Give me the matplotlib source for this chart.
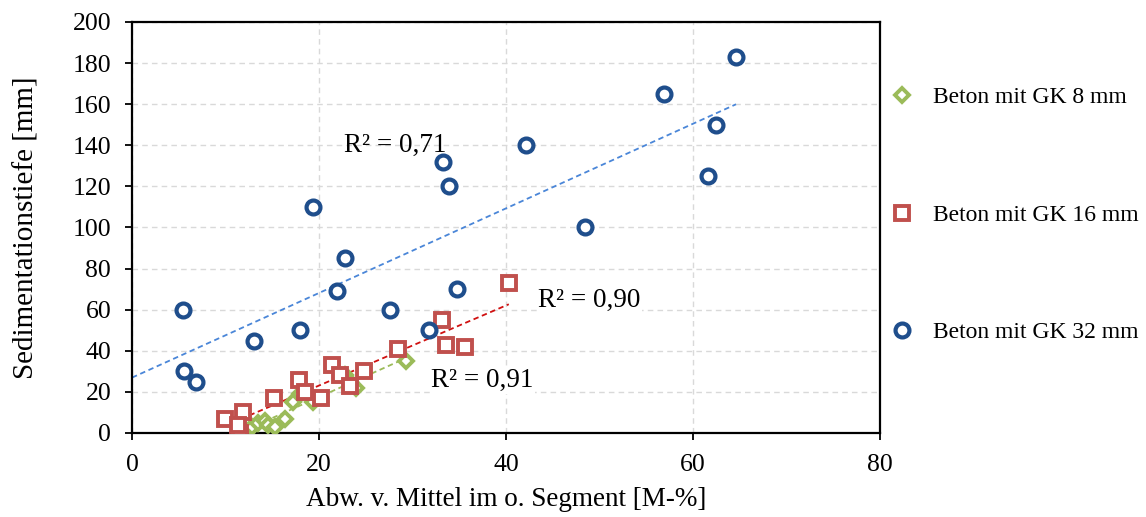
import numpy as np
import matplotlib.pyplot as plt

plt.rcParams['font.family'] = ['Liberation Serif', 'DejaVu Serif']

# Beton mit GK 8 mm
gk8_x = [11.5, 12.8, 13.5, 14.2, 14.5, 15.3, 16.4, 17.2, 18.0, 19.4, 22.8, 23.3, 24.0, 29.3]
gk8_y = [1, 3, 5, 6, 4, 3, 7, 15, 19, 15, 28, 25, 22, 35]

# Beton mit GK 16 mm
gk16_x = [9.9, 11.9, 11.6, 11.3, 15.2, 17.9, 18.5, 20.2, 21.4, 22.2, 24.8, 23.3, 28.4, 33.2, 33.6, 35.6, 40.3]
gk16_y = [7, 10, 0, 4, 17, 26, 20, 17, 33, 28, 30, 23, 41, 55, 43, 42, 73]

# Beton mit GK 32 mm
gk32_x = [5.5, 5.6, 6.8, 13.0, 19.4, 18.0, 22.8, 21.9, 27.6, 31.8, 33.3, 33.9, 34.8,
          42.1, 48.4, 56.9, 61.6, 62.5, 64.6]
gk32_y = [60, 30, 25, 45, 110, 50, 85, 69, 60, 50, 132, 120, 70,
          140, 100, 165, 125, 150, 183]

labels = ["Beton mit GK 8 mm", "Beton mit GK 16 mm", "Beton mit GK 32 mm"]
r2_labels = ["R² = 0,91", "R² = 0,90", "R² = 0,71"]

green = "#9BBB59"
red = "#C0504D"
navy = "#1F4E8C"

fig = plt.figure(figsize=(11.46, 5.17), dpi=100)
ax = fig.add_axes([0.1152, 0.1625, 0.6527, 0.795])

# trendlines (linear fit)
def trend(x, y, x0, x1, color):
    k, d = np.polyfit(x, y, 1)
    xs = np.array([x0, x1])
    ax.plot(xs, k * xs + d, ls=(0, (3, 2)), lw=1.3, color=color, zorder=2)

trend(gk32_x, gk32_y, 0, max(gk32_x), "#4A86D8")
trend(gk16_x, gk16_y, min(gk16_x), max(gk16_x), "#D01010")
trend(gk8_x, gk8_y, min(gk8_x), max(gk8_x), green)

h8, = ax.plot(gk8_x, gk8_y, ls="none", marker="D", ms=7.5, mfc="white", mec=green, mew=2.8, zorder=3)
h16, = ax.plot(gk16_x, gk16_y, ls="none", marker="s", ms=10, mfc="white", mec=red, mew=2.8, zorder=4)
h32, = ax.plot(gk32_x, gk32_y, ls="none", marker="o", ms=10, mfc="white", mec=navy, mew=3.0, zorder=5)

bbox = dict(facecolor="white", edgecolor="none", pad=1)
ax.text(37.5, 25.8, r2_labels[0], fontsize=19.5, ha="center", va="center", bbox=bbox, zorder=6)
ax.text(48.9, 64.7, r2_labels[1], fontsize=19.5, ha="center", va="center", bbox=bbox, zorder=6)
ax.text(28.2, 140, r2_labels[2], fontsize=19.5, ha="center", va="center", zorder=6)

ax.set_xlim(0, 80)
ax.set_ylim(0, 200)
ax.set_xticks(np.arange(0, 81, 20))
ax.set_yticks(np.arange(0, 201, 20))
ax.tick_params(labelsize=18.5, direction="out", length=5, width=1.3)
ax.tick_params(axis="y", pad=10)
ax.tick_params(axis="x", pad=10)
ax.grid(True, color="#D9D9D9", ls=(0, (4, 3)), lw=1.0)
ax.set_axisbelow(True)
for s in ax.spines.values():
    s.set_linewidth(1.6)
    s.set_color("black")

ax.set_xlabel("Abw. v. Mittel im o. Segment [M-%]", fontsize=19.5, labelpad=8)
ax.set_ylabel("Sedimentationstiefe [mm]", fontsize=21, labelpad=24)

ax.legend([h8, h16, h32], labels, loc="upper left", bbox_to_anchor=(0.998, 0.865),
          frameon=False, fontsize=17, labelspacing=4.06, handletextpad=0.72,
          handlelength=1.2, borderaxespad=0)

fig.savefig("out.png", dpi=100)
